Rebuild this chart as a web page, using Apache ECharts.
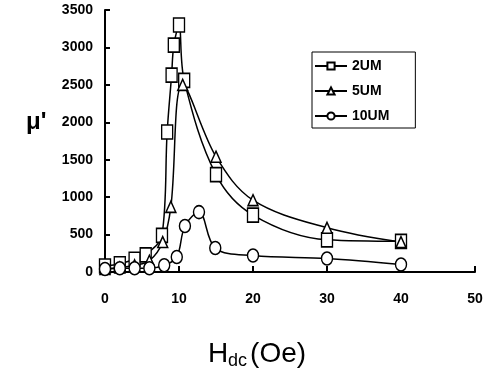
<!DOCTYPE html>
<html><head><meta charset="utf-8">
<script src="https://cdn.jsdelivr.net/npm/echarts@6/dist/echarts.min.js"></script>
<style>html,body{margin:0;padding:0;background:#fff}#c{width:492px;height:376px}</style>
</head><body><div id="c"></div>
<script>
const seriesNames = ['2UM', '5UM', '10UM'];
const x2 = [0, 2, 4, 5.5, 7.7, 8.4, 9, 9.3, 10, 10.7, 15, 20, 30, 40];
const y2 = [80, 110, 170, 230, 490, 1870, 2630, 3030, 3300, 2560, 1300, 760, 430, 410];
const x5 = [0, 2, 4, 6, 7.8, 8.9, 10.5, 15, 20, 30, 40];
const y5 = [40, 60, 90, 150, 400, 870, 2500, 1540, 960, 590, 400];
const x10 = [0, 2, 4, 6, 8, 9.7, 10.8, 12.7, 14.9, 20, 30, 40];
const y10 = [40, 50, 50, 50, 90, 200, 615, 800, 320, 220, 180, 100];
const xTicks = [0, 10, 20, 30, 40, 50];
const yTicks = [0, 500, 1000, 1500, 2000, 2500, 3000, 3500];
const yTitle = "\u03bc'";

const F = "'Liberation Sans',Arial,sans-serif";
const zip = (xs, ys) => xs.map((v, i) => [v, ys[i]]);
const mk = (name, data, symbol, size) => ({
  name, type: 'line', data, smooth: 0.35, symbol, symbolSize: size,
  lineStyle: { color: '#000', width: 1.5 },
  itemStyle: { color: '#fff', borderColor: '#000', borderWidth: 1.5 },
  z: 3
});
const chart = echarts.init(document.getElementById('c'));
chart.setOption({
  animation: false,
  backgroundColor: '#fff',
  grid: { left: 105, right: 17, top: 10, bottom: 104 },
  graphic: [{
    type: 'text', left: 26, top: 110,
    style: { text: yTitle, fontFamily: F, fontSize: 24, fontWeight: 'bold', fill: '#000' }
  }],
  legend: {
    left: 312, top: 52, orient: 'vertical',
    data: seriesNames,
    itemWidth: 32, itemHeight: 9, itemGap: 11,
    padding: [7, 26, 5, 2],
    borderColor: '#000', borderWidth: 1,
    textStyle: { fontFamily: F, fontSize: 14, fontWeight: 'bold', color: '#000' }
  },
  xAxis: {
    type: 'value', min: xTicks[0], max: xTicks[xTicks.length - 1], interval: 10,
    splitLine: { show: false },
    axisLine: { lineStyle: { color: '#000', width: 2 } },
    axisTick: { inside: true, length: 6, lineStyle: { color: '#000', width: 2 } },
    axisLabel: { margin: 20, fontFamily: F, fontSize: 14, fontWeight: 'bold', color: '#000', formatter: v => String(v) },
    name: '{a|H}{b|dc}{a|(Oe)}', nameLocation: 'middle', nameGap: 66,
    nameTextStyle: { padding: [0, 66, 0, 0], rich: {
      a: { fontFamily: F, fontSize: 28, color: '#000' },
      b: { fontFamily: F, fontSize: 18, color: '#000', verticalAlign: 'bottom', padding: [14, 3, 0, 0] }
    } }
  },
  yAxis: {
    type: 'value', min: yTicks[0], max: yTicks[yTicks.length - 1], interval: 500,
    splitLine: { show: false },
    axisLine: { lineStyle: { color: '#000', width: 2 } },
    axisTick: { inside: true, length: 5, lineStyle: { color: '#000', width: 2 } },
    axisLabel: { margin: 12, fontFamily: F, fontSize: 14, fontWeight: 'bold', color: '#000', formatter: v => String(v) }
  },
  series: [
    mk(seriesNames[0], zip(x2, y2), 'rect', [11, 14]),
    mk(seriesNames[1], zip(x5, y5), 'triangle', [10, 11]),
    mk(seriesNames[2], zip(x10, y10), 'circle', [11, 13])
  ]
});
</script></body></html>
